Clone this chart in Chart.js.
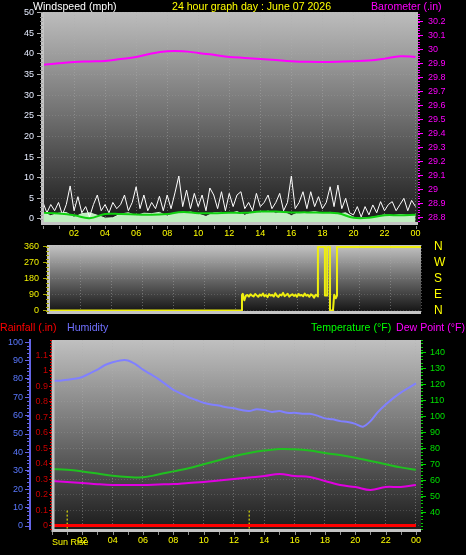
<!DOCTYPE html>
<html>
<head>
<meta charset="utf-8">
<title>24 hour graph</title>
<script src="https://cdn.jsdelivr.net/npm/chart.js@4.4.1/dist/chart.umd.min.js"></script>
<style>
  html, body { margin: 0; padding: 0; background: #000; }
  body { position: relative; width: 466px; height: 555px; overflow: hidden; font-family: "Liberation Sans", Arial, sans-serif; }
  canvas { position: absolute; left: 0; }
  .t { position: absolute; font-size: 10.6px; line-height: 12px; white-space: nowrap; z-index: 2; }
</style>
</head>
<body>
<canvas id="wind" width="466" height="240" style="top:0"></canvas>
<canvas id="dir" width="466" height="80" style="top:240px"></canvas>
<canvas id="temp" width="466" height="235" style="top:320px"></canvas>

<div class="t" style="left:33px;top:0;color:#fff">Windspeed (mph)</div>
<div class="t" style="left:172px;top:0;color:#ff0">24 hour graph day : June 07 2026</div>
<div class="t" style="left:371px;top:0;color:#f0f">Barometer (.in)</div>
<div class="t" style="left:0;top:321px;color:#f00">Rainfall (.in)</div>
<div class="t" style="left:67px;top:321px;color:#7070ff">Humidity</div>
<div class="t" style="left:311px;top:321px;color:#0f0">Temperature (°F)</div>
<div class="t" style="left:396px;top:321px;color:#f0f">Dew Point (°F)</div>
<div class="t" style="left:52px;top:536px;color:#ff0;font-size:9px">Sun Rise</div>

<script>
// x axis, hours of the day
const hourTicks = [2, 4, 6, 8, 10, 12, 14, 16, 18, 20, 22, 24];
const hourLabels = ['02', '04', '06', '08', '10', '12', '14', '16', '18', '20', '22', '00'];

// top panel
const windTicks = [0, 5, 10, 15, 20, 25, 30, 35, 40, 45, 50];
const baroTicks = [28.8, 28.9, 29, 29.1, 29.2, 29.3, 29.4, 29.5, 29.6, 29.7, 29.8, 29.9, 30, 30.1, 30.2];
// wind speed every 15 min (mph)
const windSpeed = [
  4.0, 1.5, 3.5, 2.0, 4.0, 1.0, 3.5, 8.0, 2.0, 5.4, 1.5, 3.0, 0.5, 3.5, 5.8, 2.0,
  3.5, 1.5, 4.0, 2.5, 3.5, 5.8, 2.0, 4.0, 7.8, 2.5, 5.8, 2.0, 4.0, 2.5, 5.5, 2.0,
  5.8, 2.5, 6.3, 10.4, 3.0, 7.0, 2.5, 6.2, 3.0, 5.8, 2.0, 7.5, 5.8, 2.5, 6.6, 2.0,
  6.2, 3.0, 5.8, 6.6, 2.5, 4.0, 2.0, 6.2, 3.0, 4.0, 5.8, 2.5, 4.0, 6.2, 2.0, 4.0,
  10.4, 2.5, 4.0, 6.6, 2.5, 6.6, 3.0, 5.4, 2.5, 4.0, 7.8, 3.0, 8.2, 2.5, 5.0, 1.5,
  1.0, 3.0, 0.5, 3.0, 1.0, 3.4, 1.5, 4.2, 2.0, 3.5, 4.2, 2.0, 3.5, 5.0, 2.0, 4.5,
  3.0
];
// average wind, hourly
const windAverage = [1.5, 1.3, 0.9, 0.2, 1.2, 1.2, 1.1, 1.0, 1.2, 1.7, 1.4, 1.4, 1.5,
  1.5, 1.8, 1.8, 1.6, 1.6, 1.5, 1.4, 0.3, 0.3, 0.9, 0.9, 1.0];
// low wind band, every 30 min
const windLow = [1.5, 0.8, 1.4, 1.6, 0.4, 1.3, 1.5, 0.9, 0.2, 0.3, 1.2, 1.5, 0.8, 1.4, 1.3, 1.6,
  0.7, 1.5, 1.4, 1.7, 1.2, 0.6, 1.5, 1.6, 1.3, 1.8, 0.9, 1.6, 1.5, 1.9, 1.4, 1.7,
  0.8, 1.6, 1.5, 1.8, 1.4, 1.6, 1.2, 1.5, 0.4, 0.2, 0.3, 0.6, 1.0, 0.8, 1.1, 0.9, 1.0];
// barometer, hourly (in)
const barometer = [29.893, 29.905, 29.914, 29.918, 29.921, 29.935, 29.95, 29.975, 29.99,
  29.99, 29.979, 29.965, 29.95, 29.943, 29.936, 29.928, 29.92, 29.915, 29.914, 29.916,
  29.92, 29.925, 29.938, 29.955, 29.95];

// middle panel, wind direction
const dirTicks = [0, 90, 180, 270, 360];
const dirLabels = ['N', 'E', 'S', 'W', 'N'];
const dirHours = [0, 12.45, 12.45,
  12.5, 12.6, 12.7, 12.8, 12.9, 13.0, 13.1, 13.2, 13.3, 13.4,
  13.5, 13.6, 13.7, 13.8, 13.9, 14.0, 14.1, 14.2, 14.3, 14.4,
  14.5, 14.6, 14.7, 14.8, 14.9, 15.0, 15.1, 15.2, 15.3, 15.4,
  15.5, 15.6, 15.7, 15.8, 15.9, 16.0, 16.1, 16.2, 16.3, 16.4,
  16.5, 16.6, 16.7, 16.8, 16.9, 17.0, 17.1, 17.2, 17.3,
  17.35, 17.35, 17.8, 17.8, 17.95, 17.95, 18.13, 18.13, 18.32, 18.4, 18.5, 18.58, 18.58, 24];
const dirDegrees = [0, 0, 88,
  95, 58, 84, 88, 79, 92, 85, 80, 94, 86,
  78, 90, 84, 97, 81, 88, 76, 93, 85, 89,
  80, 98, 84, 77, 91, 86, 100, 82, 88, 95,
  79, 87, 92, 83, 90, 78, 94, 85, 88, 81,
  96, 84, 89, 78, 92, 86, 73, 90, 85,
  80, 360, 360, 85, 85, 360, 360, 0, 0, 90, 70, 85, 360, 360];

// bottom panel
const humTicks = [0, 10, 20, 30, 40, 50, 60, 70, 80, 90, 100];
const rainTicks = [0, 0.1, 0.2, 0.3, 0.4, 0.5, 0.6, 0.7, 0.8, 0.9, 1, 1.1];
const tempTicks = [40, 50, 60, 70, 80, 90, 100, 110, 120, 130, 140];
// humidity every 30 min (%)
const humidity = [79, 79, 79.5, 80, 81, 83, 85, 87.5, 89, 90, 90, 88, 85, 82.5, 80, 77,
  74, 72, 70, 68.5, 67, 66, 65.5, 64.5, 64, 63, 62.5, 63.5, 63, 62, 62.5, 61.5,
  61.5, 61, 61, 60, 58.5, 58, 57, 56.5, 55.5, 54, 57, 62, 66, 69.5, 72.5, 75, 77.5];
// hourly (°F)
const temperature = [67.5, 67, 66, 64.7, 63.3, 62.5, 62.3, 64, 66, 68, 70.5, 73, 75.5,
  77.5, 79, 80, 79.8, 79, 77.5, 76.2, 74.5, 72.5, 70.5, 68.5, 67];
const dewPoint = [60, 59.4, 58.75, 58, 57.5, 57.5, 57.5, 57.8, 58.1, 58.8, 59.4, 60.3, 61.25,
  62.2, 63.1, 64.4, 63.1, 62.5, 60, 57.5, 56.25, 54.4, 56.25, 56.25, 57.5];
const rainfall = [0, 0, 0, 0, 0, 0, 0, 0, 0, 0, 0, 0, 0, 0, 0, 0, 0, 0, 0, 0, 0, 0, 0, 0, 0];
const sunMarks = [1.0, 13.0];

Chart.defaults.font.family = '"Liberation Sans", Arial, sans-serif';
Chart.defaults.font.size = 9;

const series = (values, step) => values.map((v, i) => ({ x: i * step, y: v }));

const common = {
  responsive: false, animation: false, devicePixelRatio: 1, events: [],
  plugins: { legend: { display: false }, tooltip: { enabled: false } },
  elements: { point: { radius: 0 }, line: { borderJoinStyle: 'round' } }
};

function hourAxis(max, showLabels, height, padding) {
  return {
    type: 'linear', min: 0, max: max,
    afterBuildTicks: s => { s.ticks = hourTicks.map(v => ({ value: v })); },
    afterFit: s => { s.height = height; s.paddingLeft = 0; s.paddingRight = 0; },
    ticks: {
      display: showLabels, color: '#ffff00', padding: padding, autoSkip: false, maxRotation: 0,
      callback: v => hourLabels[hourTicks.indexOf(v)]
    },
    grid: { color: 'rgba(175,175,175,0.45)', drawTicks: false },
    border: { display: false, dash: [1, 2] }
  };
}

function valueAxis(o) {
  return {
    type: 'linear', position: o.position, min: o.min, max: o.max, weight: o.weight || 0,
    afterBuildTicks: s => { s.ticks = o.ticks.map(v => ({ value: v })); },
    afterFit: s => { s.width = o.width; s.paddingTop = 0; s.paddingBottom = 0; },
    ticks: {
      color: o.color, padding: o.padding, font: o.font, autoSkip: false,
      callback: o.labels ? (v => o.labels[o.ticks.indexOf(v)]) : (v => String(v))
    },
    grid: {
      drawOnChartArea: !!o.gridColor, color: o.gridColor || 'transparent',
      drawTicks: o.tickLength > 0, tickLength: o.tickLength || 0, tickColor: o.tickColor || 'transparent'
    },
    border: { display: !!o.borderColor, color: o.borderColor || 'transparent', width: o.borderWidth || 1, dash: [1, 2] }
  };
}

function panel(colors, fx, fy, minors) {
  return {
    id: 'panel',
    beforeDraw(chart) {
      const { ctx, chartArea: a } = chart;
      const g = ctx.createLinearGradient(0, a.top, 0, a.bottom);
      colors.forEach((c, i) => g.addColorStop(i / (colors.length - 1), c));
      ctx.save();
      ctx.fillStyle = g;
      ctx.fillRect(a.left, a.top, a.right - a.left, a.bottom - a.top);
      ctx.restore();
    },
    afterDraw(chart) {
      const { ctx, chartArea: a } = chart;
      ctx.save();
      ctx.strokeStyle = '#c4c4c4';
      ctx.lineWidth = 3;
      ctx.beginPath();
      ctx.moveTo(a.left - 0.5 + fx, a.top);
      ctx.lineTo(a.left - 0.5 + fx, a.bottom + 0.5 + fy);
      ctx.lineTo(a.right, a.bottom + 0.5 + fy);
      ctx.stroke();
      ctx.lineWidth = 1;
      minors.forEach(m => {
        const s = chart.scales[m.axis];
        const first = Math.ceil(s.min / m.step - 1e-9);
        const last = Math.floor(s.max / m.step + 1e-9);
        ctx.strokeStyle = m.color;
        ctx.beginPath();
        for (let k = first; k <= last; k++) {
          const p = Math.round(s.getPixelForValue(k * m.step)) + 0.5;
          if (m.axis === 'x') {
            const y0 = a.bottom + m.at;
            ctx.moveTo(p, y0); ctx.lineTo(p, y0 + m.len);
          } else if (s.position === 'left') {
            ctx.moveTo(s.right - m.len, p); ctx.lineTo(s.right, p);
          } else {
            ctx.moveTo(s.left, p); ctx.lineTo(s.left + m.len, p);
          }
        }
        ctx.stroke();
      });
      ctx.restore();
    }
  };
}

// wind speed and barometer
new Chart(document.getElementById('wind'), {
  type: 'line',
  data: {
    datasets: [
      { data: series(barometer, 1), yAxisID: 'yBaro', borderColor: '#ff00ff', borderWidth: 2, tension: 0.4 },
      { data: series(windAverage, 1), yAxisID: 'y', borderColor: '#10d010', borderWidth: 2, tension: 0.4 },
      { data: series(windSpeed, 0.25), yAxisID: 'y', borderColor: '#ffffff', borderWidth: 1 },
      { data: series(windLow, 0.5), yAxisID: 'y', borderColor: '#d0f8d0', backgroundColor: '#bfeebf', borderWidth: 1, fill: 'start' }
    ]
  },
  options: {
    ...common,
    layout: { padding: { top: 12 } },
    scales: {
      x: hourAxis(24.16, true, 17, 5),
      y: valueAxis({ position: 'left', min: -0.97, max: 50.1, ticks: windTicks, width: 43, color: '#e6ecff',
        padding: 3, tickLength: 6, tickColor: '#b0b0b0', gridColor: 'rgba(175,175,175,0.25)' }),
      yBaro: valueAxis({ position: 'right', min: 28.764, max: 30.271, ticks: baroTicks, width: 48, color: '#ff00ff',
        padding: 5, tickLength: 5, tickColor: '#ff00ff' })
    }
  },
  plugins: [panel(['#bdbdbd', '#6e6e6e', '#191919'], 0, 0, [
    { axis: 'y', step: 1, len: 3, color: '#a0a0a0' },
    { axis: 'yBaro', step: 0.02, len: 2, color: '#ff00ff' },
    { axis: 'x', step: 1, len: 3, at: 3, color: '#909090' }
  ])]
});

// wind direction
new Chart(document.getElementById('dir'), {
  type: 'line',
  data: {
    datasets: [
      { data: dirHours.map((h, i) => ({ x: h, y: dirDegrees[i] })), yAxisID: 'y', borderColor: '#eeee10', borderWidth: 2 }
    ]
  },
  options: {
    ...common,
    layout: { padding: { top: 5 } },
    scales: {
      x: hourAxis(24, false, 8, 0),
      y: valueAxis({ position: 'left', min: -8, max: 371, ticks: dirTicks, width: 49, color: '#f0f000',
        padding: 4, tickLength: 6, tickColor: '#a8a800', gridColor: 'rgba(175,175,175,0.25)' }),
      yN: valueAxis({ position: 'right', min: -8, max: 371, ticks: dirTicks, labels: dirLabels, width: 45,
        color: '#ffff00', padding: 13, font: { size: 12 } })
    }
  },
  plugins: [panel(['#c4c4c4', '#6a6a6a', '#141414'], 0, 0, [
    { axis: 'y', step: 22.5, len: 3, color: '#a8a800' }
  ])]
});

// rain, humidity, temperature, dew point
const sunSets = sunMarks.map(h => ({
  data: [{ x: h, y: -0.02 }, { x: h, y: 0.1 }], yAxisID: 'yR',
  borderColor: '#ffff00', borderWidth: 1, borderDash: [2, 2]
}));

new Chart(document.getElementById('temp'), {
  type: 'line',
  data: {
    datasets: [
      { data: series(rainfall, 1), yAxisID: 'yR', borderColor: '#ff0000', borderWidth: 3 },
      ...sunSets,
      { data: series(dewPoint, 1), yAxisID: 'yT', borderColor: '#e000e0', borderWidth: 2, tension: 0.4 },
      { data: series(temperature, 1), yAxisID: 'yT', borderColor: '#20c020', borderWidth: 2, tension: 0.4 },
      { data: series(humidity, 0.5), yAxisID: 'yH', borderColor: '#8080ff', borderWidth: 2, tension: 0.3 }
    ]
  },
  options: {
    ...common,
    layout: { padding: { top: 20 } },
    scales: {
      x: hourAxis(24.33, true, 26, 6),
      yH: valueAxis({ position: 'left', weight: 1, min: -1.63, max: 101.1, ticks: humTicks, width: 30,
        color: '#5a78ff', padding: 2, tickLength: 5, tickColor: '#6464e6', borderColor: '#6464e6', borderWidth: 2 }),
      yR: valueAxis({ position: 'left', weight: 0, min: -0.0227, max: 1.2006, ticks: rainTicks, width: 22,
        color: '#c80000', padding: 1, tickLength: 3, tickColor: '#e00000', gridColor: 'rgba(175,175,175,0.25)' }),
      yT: valueAxis({ position: 'right', min: 30, max: 148.1, ticks: tempTicks, width: 45, color: '#00e000',
        padding: 4, tickLength: 5, tickColor: '#00d000' })
    }
  },
  plugins: [panel(['#c0c0c0', '#707070', '#1c1c1c'], 1.5, 1, [
    { axis: 'yH', step: 2, len: 3, color: '#6464e6' },
    { axis: 'yR', step: 0.02, len: 2, color: '#e00000' },
    { axis: 'yT', step: 2, len: 2, color: '#00d000' },
    { axis: 'x', step: 1, len: 3, at: 3, color: '#909090' }
  ])]
});
</script>
</body>
</html>
